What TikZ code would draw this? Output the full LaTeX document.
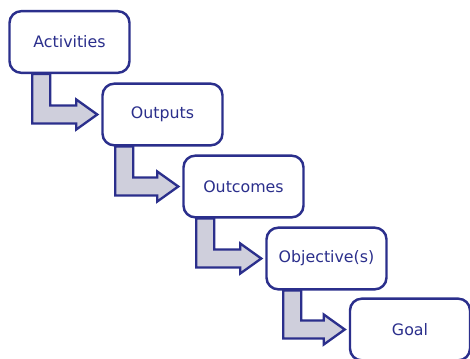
\documentclass[tikz,border=0pt]{standalone}
\usepackage{fontspec}
\setmainfont{DejaVu Sans}
\usetikzlibrary{calc,backgrounds}
\definecolor{stepblue}{HTML}{2B2F8C}
\definecolor{arrowgray}{HTML}{CFCFDC}
\tikzset{
	stepbox/.style={draw=stepblue, line width=2.1pt, rounded corners=10, fill=white,
		minimum width=3.6cm, minimum height=1.85cm, text=stepblue,
		font=\fontsize{13.5}{16}\selectfont},
	bentarrow/.style={fill=arrowgray, draw=stepblue, line width=2pt, line join=miter}
}
\begin{document}
\begin{tikzpicture}[x=0.03cm, y=-0.03cm]
		\useasboundingbox (0,0) rectangle (470,358);
		\node[stepbox] (act) at (69.5,42) {Activities};
		\node[stepbox] (outp) at (162.5,114.5) {Outputs};
		\node[stepbox] (outc) at (243.5,186.5) {Outcomes};
		\node[stepbox] (obj) at (326.5,258.5) {Objective(s)};
		\node[stepbox] (goal) at (410,329.5) {Goal};
		
		\begin{scope}[on background layer]
		\foreach \a/\b/\s in {act/outp/24, outp/outc/14, outc/obj/14, obj/goal/18}{
			\draw[bentarrow] ($(\a.south west)+(\s,0)$) |- ($(\b.west)+(-25,9)$) -- ++(0,6)
				-- ($(\b.west)+(-4,0)$) -- ($(\b.west)+(-25,-15)$) -- ++(0,6)
				-| ($(\a.south west)+(\s+18,0)$) -- cycle;
		}
		\end{scope}
		\end{tikzpicture}
\end{document}
